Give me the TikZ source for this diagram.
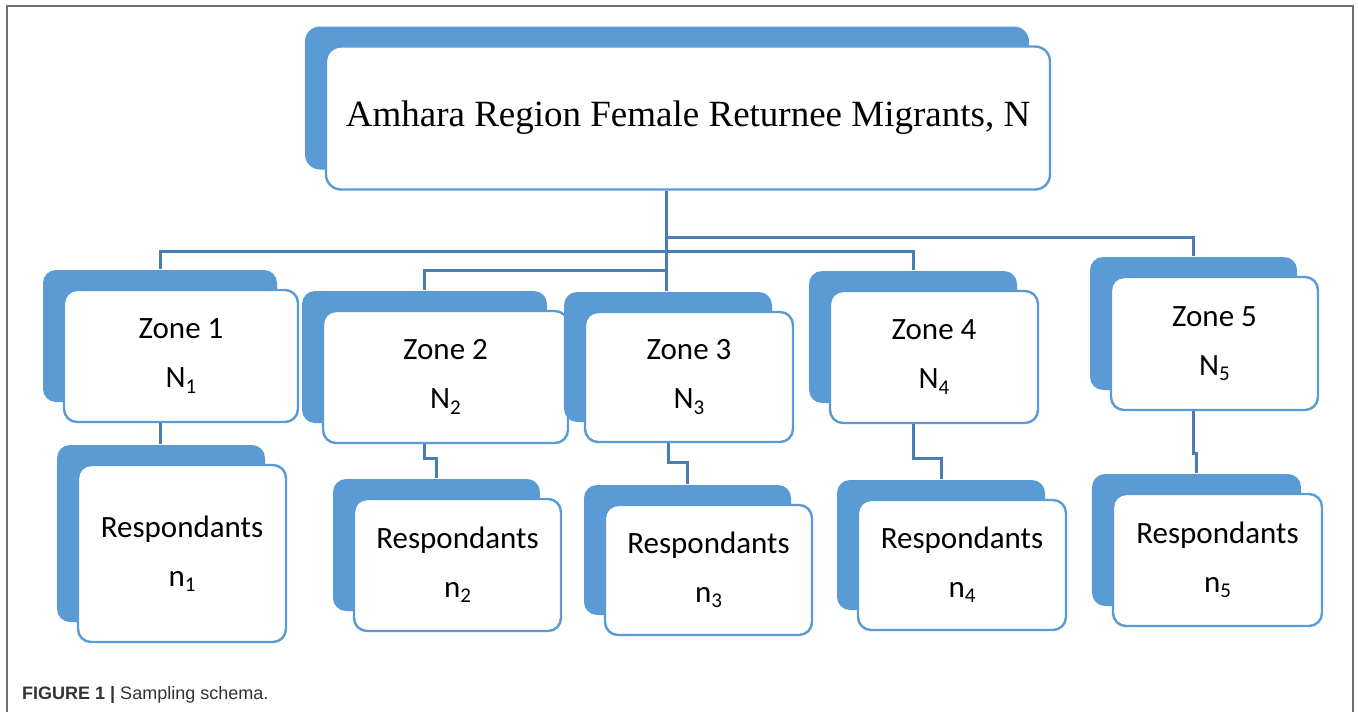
\documentclass[tikz,border=0pt]{standalone}
\usepackage{fontspec}
\setmainfont{Liberation Serif}
\newfontfamily\calfont{Carlito}
\newfontfamily\capfont{Liberation Sans}
\usetikzlibrary{shadows}
\definecolor{boxblue}{HTML}{5B9BD5}
\definecolor{connblue}{HTML}{4A7DB5}
\definecolor{framegray}{HTML}{707070}
\definecolor{captext}{HTML}{333333}
\tikzset{
  front/.style={draw=boxblue, line width=2.4pt, fill=white, rounded corners=13pt,
    general shadow={fill=boxblue, shadow xshift=-21pt, shadow yshift=20pt},
    inner sep=0pt, align=center},
  zonebox/.style={front, font=\calfont\fontsize{31}{49}\selectfont},
  conn/.style={draw=connblue, line width=3pt},
}
\newcommand{\sbs}[1]{\raisebox{-0.35ex}{\fontsize{21}{21}\selectfont #1}}
\begin{document}
\begin{tikzpicture}[x=1pt,y=-1pt]
\useasboundingbox (0,0) rectangle (1358,712);
% frame
\draw[framegray, line width=2pt] (7,712) -- (7,6) -- (1353,6) -- (1353,712);
% boxes
\node[front, rounded corners=15pt, minimum width=724pt, minimum height=143pt,
  font=\fontsize{37}{44}\selectfont] (top) at (688,118) {Amhara Region Female Returnee Migrants, N};
\node[zonebox, minimum width=234pt, minimum height=132pt] (z1) at (181,356) {Zone 1\\N\sbs{1}};
\node[zonebox, minimum width=245pt, minimum height=132pt] (z2) at (445.5,377) {Zone 2\\N\sbs{2}};
\node[zonebox, minimum width=208pt, minimum height=130pt] (z3) at (689,377) {Zone 3\\N\sbs{3}};
\node[zonebox, minimum width=208pt, minimum height=132pt] (z4) at (934,357) {Zone 4\\N\sbs{4}};
\node[zonebox, minimum width=207pt, minimum height=133pt] (z5) at (1214.5,343.5) {Zone 5\\N\sbs{5}};
\node[zonebox, minimum width=208pt, minimum height=177pt] (r1) at (182,553.5) {Respondants\\n\sbs{1}};
\node[zonebox, minimum width=207pt, minimum height=132pt] (r2) at (457.5,565) {Respondants\\n\sbs{2}};
\node[zonebox, minimum width=207pt, minimum height=130pt] (r3) at (708.5,570) {Respondants\\n\sbs{3}};
\node[zonebox, minimum width=208pt, minimum height=130pt] (r4) at (962,565) {Respondants\\n\sbs{4}};
\node[zonebox, minimum width=209pt, minimum height=132pt] (r5) at (1217.5,560) {Respondants\\n\sbs{5}};
% connector anchor points (centre line of each box pair)
\coordinate (tops) at ([xshift=-22pt]top.south);
\foreach \n in {z1,z2,z3,z4,z5,r1,r2,r3,r4,r5}{
  \coordinate (\n b) at ([xshift=-21pt,yshift=20pt]\n.north);
  \coordinate (\n s) at ([xshift=-21pt]\n.south);
}
% connectors
\draw[conn] (tops) -- (tops |- z3b);
\draw[conn] (tops |- 0,237) -| (z5b);
\draw[conn] (z1b) -- (z1b |- 0,251) -- (z4b |- 0,251) -- (z4b);
\draw[conn] (z2b) -- (z2b |- 0,270) -- (tops |- 0,270);
\draw[conn] (z1s) -- (z1s |- r1b);
\draw[conn] (z2s) -- (z2s |- 0,458) -| (r2b);
\draw[conn] (z3s) -- (z3s |- 0,462) -| (r3b);
\draw[conn] (z4s) -- (z4s |- 0,458) -| (r4b);
\draw[conn] (z5s) -- (z5s |- 0,453) -| (r5b);
% caption
\node[anchor=base west, inner sep=0pt, text=captext, font=\capfont\fontsize{18}{22}\selectfont] (cap) at (22,699)
  {{\bfseries FIGURE 1 |} Sampling schema.};
\end{tikzpicture}
\end{document}
